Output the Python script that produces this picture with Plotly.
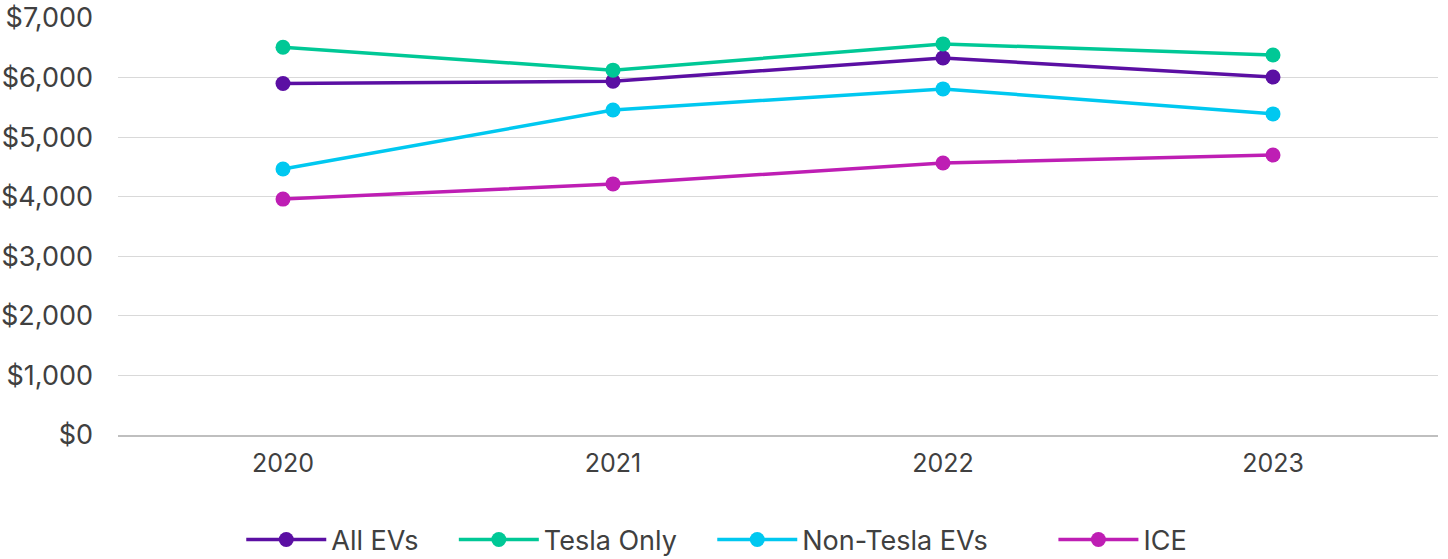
import plotly.graph_objects as go

years = ["2020", "2021", "2022", "2023"]
all_evs = [5900, 5940, 6330, 6010]
tesla_only = [6510, 6125, 6565, 6380]
non_tesla = [4465, 5455, 5810, 5390]
ice = [3960, 4215, 4565, 4700]

series = [
    ("All EVs", all_evs, "#5B0FA3", 4),
    ("Tesla Only", tesla_only, "#00C896", 4),
    ("Non-Tesla EVs", non_tesla, "#00C8F0", 8),
    ("ICE", ice, "#BE1EB4", 0),
]

fig = go.Figure()
for name, vals, col, pad in series:
    fig.add_trace(go.Scatter(
        x=years, y=vals, name=name + "\u00a0" * pad, mode="lines+markers",
        line=dict(color=col, width=3.5),
        marker=dict(color=col, size=15),
    ))

fig.update_layout(
    width=1448, height=559,
    margin=dict(l=118, r=10, t=18, b=124, autoexpand=False),
    plot_bgcolor="white", paper_bgcolor="white",
    font=dict(family="Inter, Roboto, sans-serif", size=25, color="#404040"),
    showlegend=True,
    legend=dict(orientation="h", xref="container", yref="container",
                x=0.495, xanchor="center", y=0.034, yanchor="middle",
                font=dict(size=27, color="#404040"), itemwidth=80, tracegroupgap=0),
    xaxis=dict(type="category", range=[-0.5, 3.5], showgrid=False, automargin=False,
               showline=True, linecolor="#BFBFBF", linewidth=2,
               ticks="", tickfont=dict(size=25), ticklabelstandoff=5),
    yaxis=dict(range=[0, 7000], dtick=1000, tickprefix="$", separatethousands=True,
               tickformat=",d", showgrid=True, gridcolor="#D9D9D9", gridwidth=1,
               automargin=False,
               zeroline=False, ticks="", tickfont=dict(size=27), ticklabelstandoff=24),
)

# remove the page's default 8px body margin so the figure fills the window exactly
fig.write_html("out.html", config={"displayModeBar": False},
               post_script="document.body.style.margin='0';document.body.style.overflow='hidden';")
